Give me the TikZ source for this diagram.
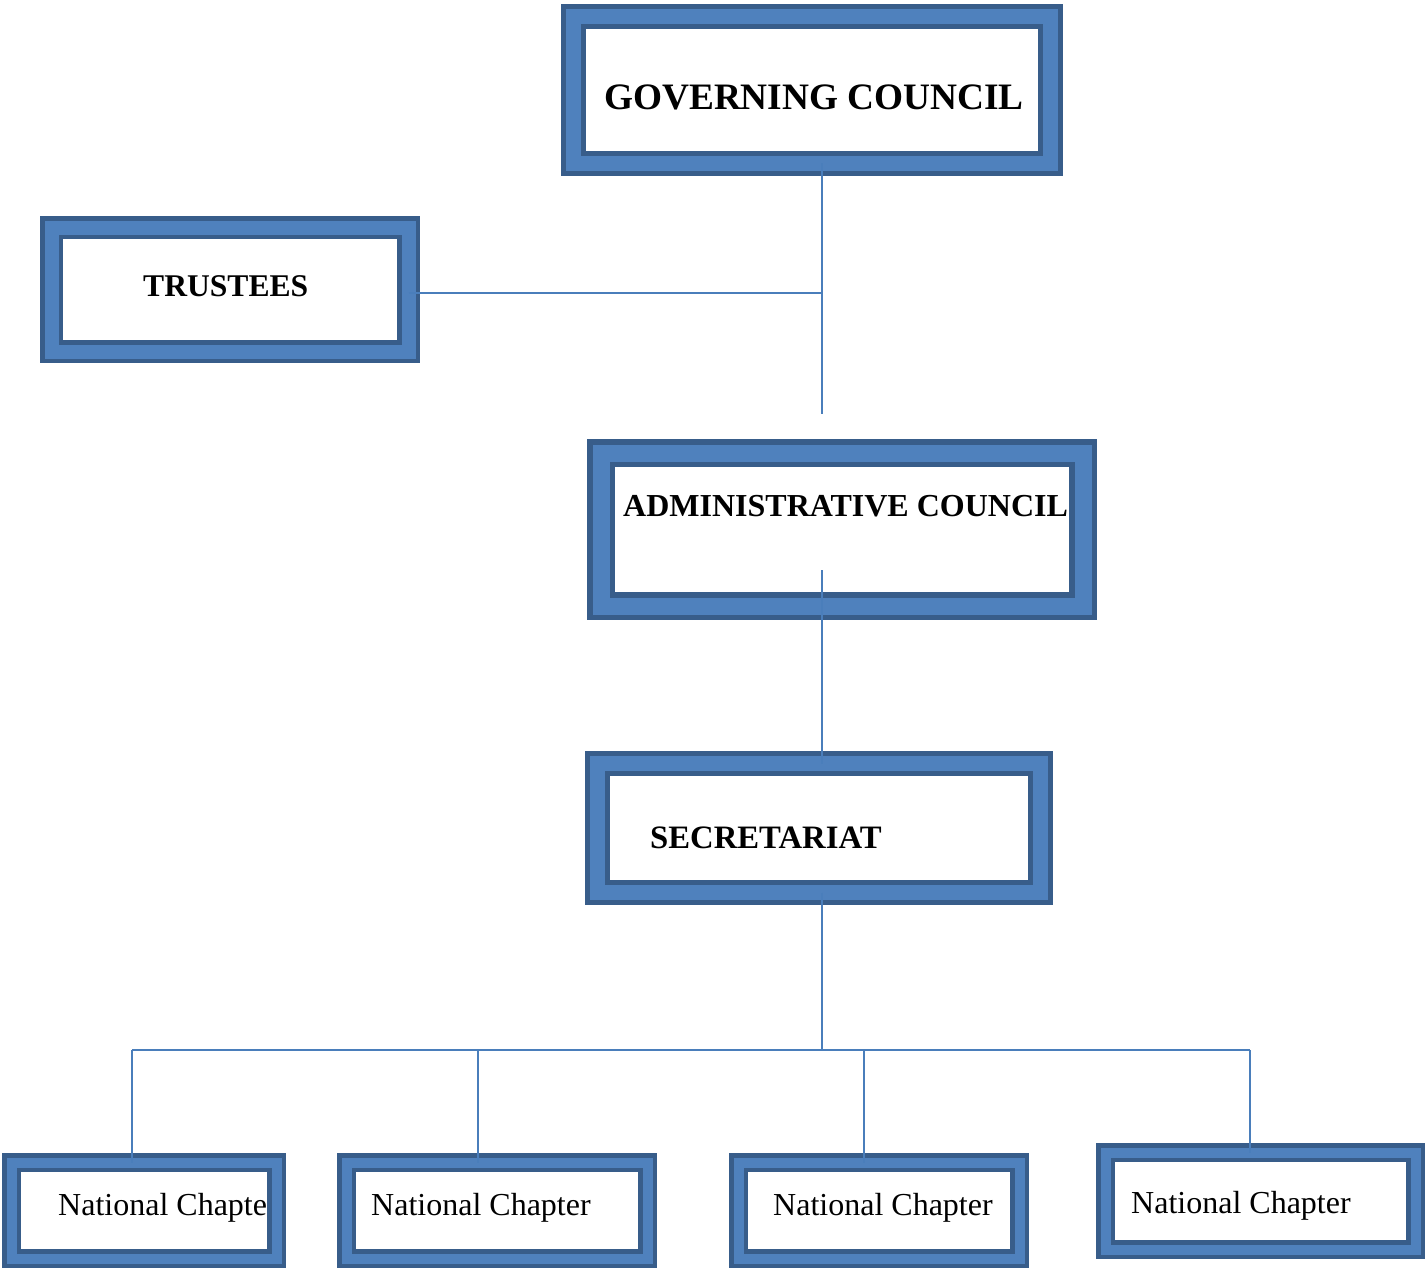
\documentclass[tikz,border=0pt]{standalone}
\usepackage{fontspec}
\setmainfont{Liberation Serif}
\usepackage{tikz}

\definecolor{boxblue}{HTML}{4F81BD}
\definecolor{boxdark}{HTML}{385D8A}
\definecolor{linkblue}{HTML}{4A7EBB}

\begin{document}
\begin{tikzpicture}[x=1pt, y=-1pt,
    frame/.style={draw=boxdark, line width=5pt, double=boxblue, double distance=15pt, inner sep=0pt, outer sep=0pt},
    thinframe/.style={frame, line width=4.5pt, double distance=10pt},
    title/.style={anchor=base west, inner sep=0pt, font=\bfseries\fontsize{32}{38}\selectfont},
    chapter/.style={anchor=base west, inner sep=0pt, font=\fontsize{32}{38}\selectfont},
    link/.style={linkblue, line width=2pt}]
    \useasboundingbox (0,0) rectangle (1426,1268);

    % texts first, the frames go over them
    \node[title, font=\bfseries\fontsize{37.3}{44}\selectfont] (govtext) at (604,110) {GOVERNING COUNCIL};
    \node[title, font=\bfseries\fontsize{31.6}{38}\selectfont] (trusttext) at (143,296) {TRUSTEES};
    \node[title, font=\bfseries\fontsize{32}{38}\selectfont] (admintext) at (623,516) {ADMINISTRATIVE COUNCIL};
    \node[title, font=\bfseries\fontsize{32.7}{38}\selectfont] (secrtext) at (650,848) {SECRETARIAT};
    \node[chapter] (nc1text) at (58,1215) {National Chapter};
    \node[chapter] (nc2text) at (371,1215) {National Chapter};
    \node[chapter] (nc3text) at (773,1215) {National Chapter};
    \node[chapter] (nc4text) at (1131,1213) {National Chapter};

    % frames
    \node[frame, minimum width=477pt, minimum height=147pt] (gov) at (812,90) {};
    \node[frame, line width=4.5pt, double distance=14pt, minimum width=357pt, minimum height=124pt] (trust) at (230,289.5) {};
    \node[frame, line width=5.5pt, double distance=17pt, minimum width=482pt, minimum height=153pt] (admin) at (842,529.5) {};
    \node[frame, minimum width=443pt, minimum height=129pt] (secr) at (819,828) {};
    \node[thinframe, minimum width=265pt, minimum height=96pt] (nc1) at (144,1210.5) {};
    \node[thinframe, minimum width=301pt, minimum height=96pt] (nc2) at (497,1210.5) {};
    \node[thinframe, minimum width=281pt, minimum height=96pt] (nc3) at (879,1210.5) {};
    \node[thinframe, minimum width=310pt, minimum height=97pt] (nc4) at (1260.5,1201) {};

    % connectors
    \coordinate (spine) at (822,0);
    \coordinate (tjoin) at (822,293);
    \coordinate (govend) at (822,414);
    \coordinate (admstub) at (822,570);
    \coordinate (bus) at (822,1050);
    \coordinate (busl) at (132,1050);
    \coordinate (busr) at (1250,1050);
    \draw[link] (gov.south -| spine) -- (govend);
    \draw[link] (trust.east |- tjoin) -- (tjoin);
    \draw[link] (admstub) -- (secr.north -| spine);
    \draw[link] (secr.south -| spine) -- (bus);
    \draw[link] (busl) -- (busr);
    \foreach \dx/\nc in {132/nc1, 478/nc2, 864/nc3, 1250/nc4}
        \draw[link] (\dx,1050) -- (\dx,0 |- \nc.north);
\end{tikzpicture}
\end{document}
